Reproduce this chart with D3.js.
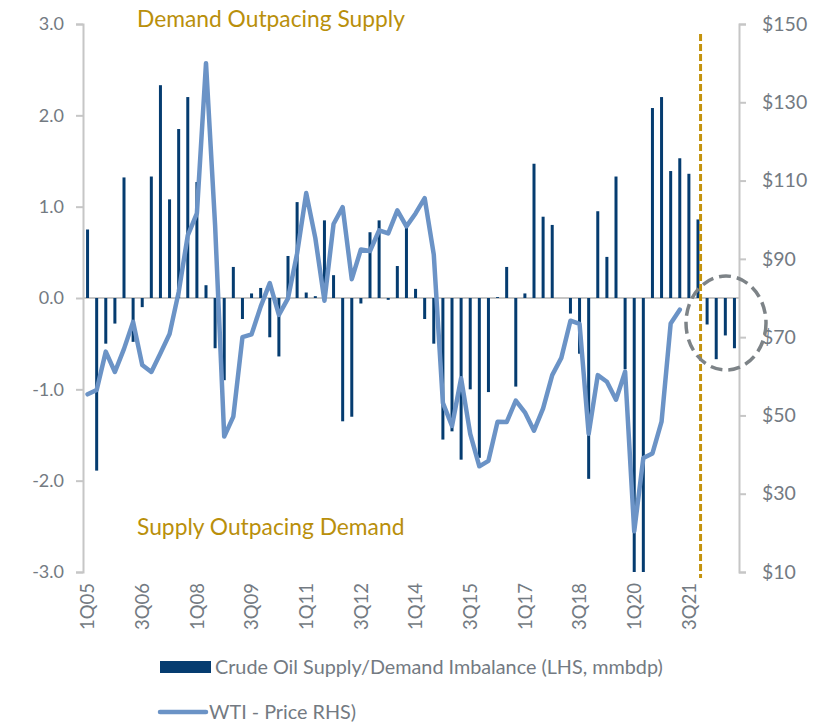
<!DOCTYPE html>
<html>
<head>
<meta charset="utf-8">
<script src="https://cdn.jsdelivr.net/npm/d3@7"></script>
<style>
  html, body { margin: 0; padding: 0; background: #fff; }
  svg { display: block; font-family: Lato, "Open Sans", sans-serif; }
</style>
</head>
<body>
<svg id="chart" width="817" height="723"></svg>
<script>
// Quarterly crude oil supply/demand imbalance (mmbdp), 1Q05 - 4Q22
const years = d3.range(2005, 2023);
const quarters = years.flatMap(y => [1, 2, 3, 4].map(q => q + "Q" + String(y).slice(2)));

const imbalance = [
  0.75, -1.89, -0.50, -0.28, 1.32, -0.48, -0.10, 1.33,
  2.33, 1.08, 1.85, 2.20, 1.27, 0.14, -0.55, -0.90,
  0.34, -0.23, 0.05, 0.11, -0.43, -0.64, 0.46, 1.05,
  0.06, 0.02, 0.85, 0.25, -1.35, -1.30, -0.06, 0.72,
  0.85, -0.02, 0.35, 0.79, 0.10, -0.23, -0.50, -1.55,
  -1.46, -1.77, -1.00, -1.75, -1.03, 0.01, 0.34, -0.97,
  0.05, 1.47, 0.89, 0.80, 0.00, -0.17, -0.61, -1.98,
  0.95, 0.45, 1.33, -0.78, -3.00, -3.00, 2.08, 2.20,
  1.39, 1.53, 1.36, 0.86, -0.29, -0.67, -0.41, -0.55
];

// WTI end-of-quarter price ($/bbl), 1Q05 - 2Q21
const wti = [
  55.4, 56.5, 66.3, 61.1, 67.0, 73.9, 62.9, 61.1,
  65.9, 70.8, 81.5, 96.0, 101.6, 140.0, 98.5, 44.6,
  49.7, 70.0, 70.7, 77.8, 83.8, 75.7, 79.9, 91.4,
  106.8, 95.3, 79.3, 98.9, 103.2, 84.8, 92.4, 92.0,
  97.3, 96.5, 102.4, 98.3, 101.6, 105.5, 91.1, 53.2,
  47.3, 59.5, 45.3, 37.0, 38.4, 48.4, 48.3, 53.8,
  50.8, 46.1, 51.8, 60.3, 64.7, 74.2, 73.4, 45.3,
  60.3, 58.6, 54.0, 61.2, 20.4, 39.1, 40.3, 48.4,
  73.5, 77.0
];

const leftTicks = [3, 2, 1, 0, -1, -2, -3];
const rightTicks = [150, 130, 110, 90, 70, 50, 30, 10];
const tickLabels = ["1Q05", "3Q06", "1Q08", "3Q09", "1Q11", "3Q12", "1Q14", "3Q15", "1Q17", "3Q18", "1Q20", "3Q21"];
const forecastStart = "1Q22";

const legendItems = ["Crude Oil Supply/Demand Imbalance (LHS, mmbdp)", "WTI - Price RHS)"];
const notes = ["Demand Outpacing Supply", "Supply Outpacing Demand"];

const C = {
  bar: "#053c70",
  line: "#6b93c6",
  gold: "#b98f0b",
  dash: "#c4930c",
  axis: "#c6c6c6",
  text: "#737a82",
  ring: "#7d8387"
};

const svg = d3.select("#chart");
const plot = { left: 83, right: 739, top: 24, bottom: 572 };

const x = d3.scaleBand().domain(quarters).range([plot.left, plot.right]).padding(0);
const cx = q => x(q) + x.bandwidth() / 2;
const yL = d3.scaleLinear().domain([-3, 3]).range([plot.bottom, plot.top]);
const yR = d3.scaleLinear().domain([10, 150]).range([plot.bottom, plot.top]);

// Left axis (plain hyphen for negatives)
const leftAxis = svg.append("g")
  .attr("transform", `translate(${plot.left},0)`)
  .call(d3.axisLeft(yL).tickValues(leftTicks)
    .tickFormat(d => d3.format(".1f")(d).replace("\u2212", "-"))
    .tickSize(7).tickPadding(12));
// Right axis
const rightAxis = svg.append("g")
  .attr("transform", `translate(${plot.right},0)`)
  .call(d3.axisRight(yR).tickValues(rightTicks).tickFormat(d => "$" + d).tickSize(7).tickPadding(16));

[leftAxis, rightAxis].forEach(g => {
  g.select(".domain").attr("stroke", C.axis).attr("stroke-width", 2);
  g.selectAll(".tick line").attr("stroke", C.axis).attr("stroke-width", 2);
  g.selectAll(".tick text").attr("fill", C.text).style("font-family", "Lato, sans-serif");
});
leftAxis.selectAll(".tick text").style("font-size", "18px");
rightAxis.selectAll(".tick text").style("font-size", "19.5px");

// Zero line
svg.append("line")
  .attr("x1", plot.left).attr("x2", plot.right)
  .attr("y1", yL(0)).attr("y2", yL(0))
  .attr("stroke", C.axis).attr("stroke-width", 2);

// Imbalance bars
const barW = 3;
svg.append("g").selectAll("rect")
  .data(imbalance)
  .join("rect")
  .attr("x", (d, i) => cx(quarters[i]) - barW / 2)
  .attr("width", barW)
  .attr("y", d => Math.min(yL(d), yL(0)))
  .attr("height", d => Math.abs(yL(d) - yL(0)))
  .attr("fill", C.bar);

// WTI price line
const line = d3.line()
  .x((d, i) => cx(quarters[i]))
  .y(d => yR(d));
svg.append("path")
  .datum(wti)
  .attr("d", line)
  .attr("fill", "none")
  .attr("stroke", C.line)
  .attr("stroke-width", 4.5)
  .attr("stroke-linejoin", "round")
  .attr("stroke-linecap", "round");

// Forecast divider
const divX = x(forecastStart) - 2;
svg.append("line")
  .attr("x1", divX).attr("x2", divX)
  .attr("y1", 34).attr("y2", 578)
  .attr("stroke", C.dash).attr("stroke-width", 3)
  .attr("stroke-dasharray", "7,3");

// Highlight ring around the forecast quarters
svg.append("ellipse")
  .attr("cx", 726).attr("cy", 323)
  .attr("rx", 40).attr("ry", 47)
  .attr("fill", "none")
  .attr("stroke", C.ring).attr("stroke-width", 3.5)
  .attr("stroke-dasharray", "12,6");

// Category labels
svg.append("g").selectAll("text")
  .data(tickLabels)
  .join("text")
  .attr("transform", d => `translate(${cx(d)},583) rotate(-90)`)
  .attr("text-anchor", "end")
  .attr("dy", "0.36em")
  .attr("fill", C.text)
  .style("font-size", "18.5px")
  .text(d => d);

// Annotations
svg.append("text").attr("x", 137).attr("y", 27)
  .attr("fill", C.gold).style("font-size", "22.8px").text(notes[0]);
svg.append("text").attr("x", 137).attr("y", 535)
  .attr("fill", C.gold).style("font-size", "22.8px").text(notes[1]);

// Legend
svg.append("rect").attr("x", 160).attr("y", 661).attr("width", 51).attr("height", 12).attr("fill", C.bar);
svg.append("text").attr("x", 215).attr("y", 667).attr("dy", "0.35em")
  .attr("fill", C.text).style("font-size", "19.8px").text(legendItems[0]);
svg.append("line").attr("x1", 160).attr("x2", 206).attr("y1", 712).attr("y2", 712)
  .attr("stroke", C.line).attr("stroke-width", 4.5).attr("stroke-linecap", "round");
svg.append("text").attr("x", 209).attr("y", 712).attr("dy", "0.35em")
  .attr("fill", C.text).style("font-size", "19.8px").text(legendItems[1]);
</script>
</body>
</html>
